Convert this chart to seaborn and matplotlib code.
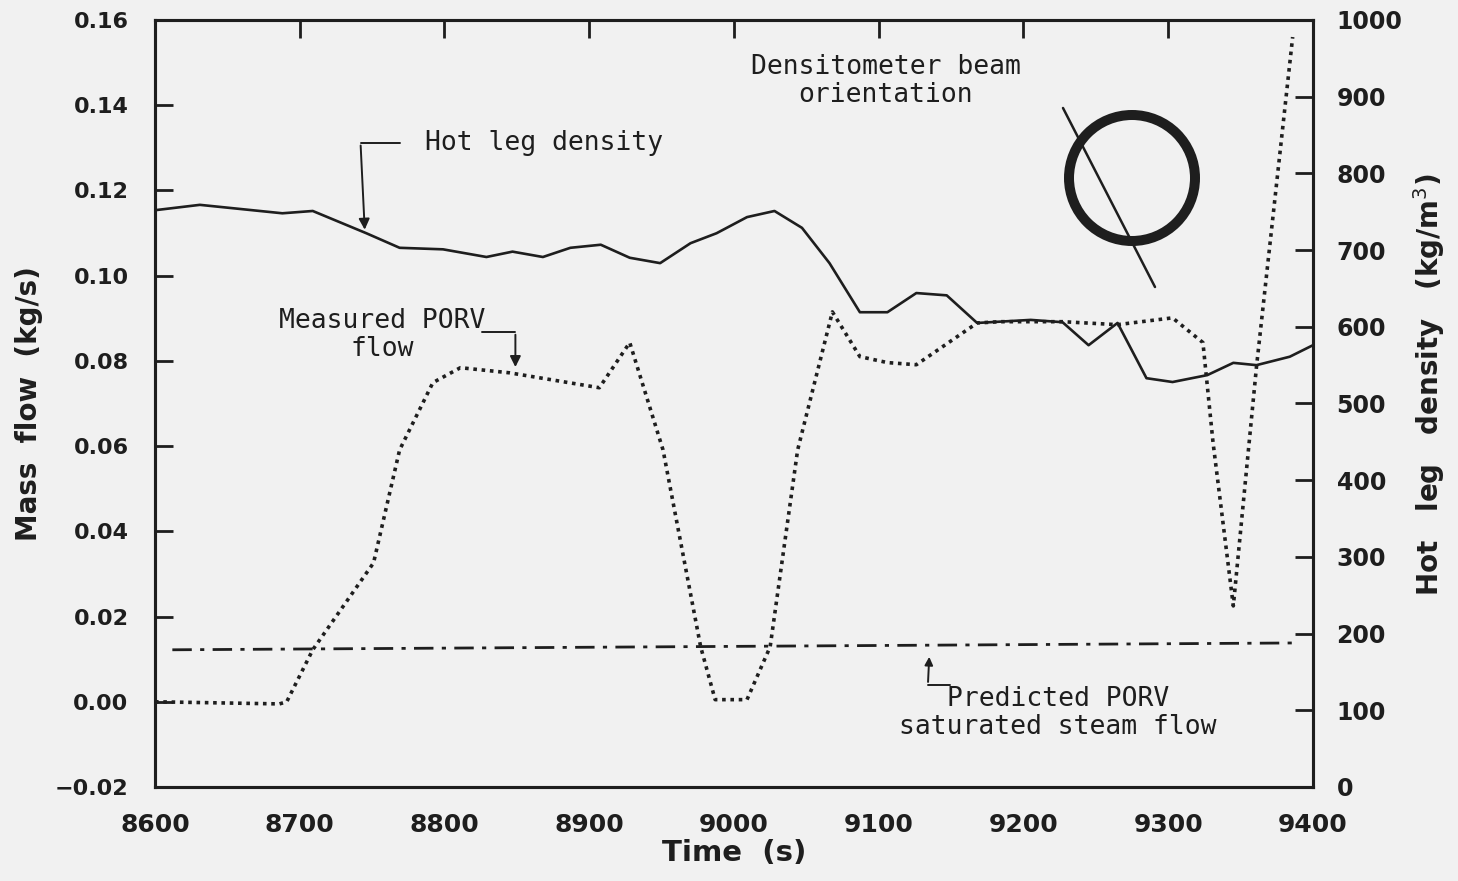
import numpy as np
import pandas as pd
import matplotlib
matplotlib.use("Agg")
import matplotlib.pyplot as plt
import matplotlib.transforms as mtransforms
import matplotlib.lines as mlines
import seaborn as sns
from matplotlib.patches import Circle

# ---------------- data ----------------
density_time = [8600, 8631, 8688, 8709, 8746, 8769, 8799, 8829, 8847, 8868, 8887, 8908,
                8928, 8949, 8970, 8988, 9009, 9028, 9047, 9066, 9087, 9106, 9126, 9147,
                9168, 9205, 9227, 9245, 9265, 9285, 9303, 9327, 9345, 9361, 9384, 9400]
density_value = [752, 759, 748, 751, 722, 703, 701, 691, 698, 691, 703, 707,
                 690, 683, 709, 722, 743, 751, 729, 683, 619, 619, 644, 641,
                 605, 609, 606, 576, 605, 533, 528, 537, 553, 550, 561, 576]

porv_time = [8600, 8686, 8691, 8709, 8751, 8769, 8792, 8811, 8845, 8907, 8928, 8951,
             8977, 8987, 9009, 9025, 9044, 9068, 9087, 9106, 9126, 9168, 9184, 9227,
             9265, 9303, 9324, 9331, 9345, 9361, 9386]
porv_flow = [0.000, -0.0005, 0.000, 0.0122, 0.0326, 0.0591, 0.0749, 0.0784, 0.0772, 0.0737,
             0.0843, 0.0591, 0.0129, 0.0005, 0.0005, 0.0129, 0.0591, 0.0915, 0.0810, 0.0796,
             0.0791, 0.0889, 0.0892, 0.0892, 0.0885, 0.0901, 0.0843, 0.0608, 0.0225, 0.0786,
             0.1560]

pred_time = [8612, 9386]
pred_flow = [0.0122, 0.0138]

x_ticks = [8600, 8700, 8800, 8900, 9000, 9100, 9200, 9300, 9400]
x_tick_labels = ["8600", "8700", "8800", "8900", "9000", "9100", "9200", "9300", "9400"]
left_ticks = [-0.02, 0.00, 0.02, 0.04, 0.06, 0.08, 0.10, 0.12, 0.14, 0.16]
left_tick_labels = ["\u22120.02", "0.00", "0.02", "0.04", "0.06", "0.08", "0.10", "0.12", "0.14", "0.16"]
right_ticks = [0, 100, 200, 300, 400, 500, 600, 700, 800, 900, 1000]
right_tick_labels = ["0", "100", "200", "300", "400", "500", "600", "700", "800", "900", "1000"]

# ---------------- style ----------------
sns.set_style("white")
plt.rcParams["font.family"] = ["DejaVu Sans"]
INK = "#1e1e1e"
BG = "#f1f1f1"

fig = plt.figure(figsize=(14.58, 8.81), dpi=100, facecolor=BG)
ax = fig.add_axes([0.1063, 0.1067, 0.7942, 0.8706], facecolor=BG)
ax2 = ax.twinx()

df_den = pd.DataFrame({"t": density_time, "v": density_value})
df_porv = pd.DataFrame({"t": porv_time, "v": porv_flow})
df_pred = pd.DataFrame({"t": pred_time, "v": pred_flow})

sns.lineplot(data=df_porv, x="t", y="v", ax=ax, color=INK, lw=2.6,
             linestyle=(0, (1.0, 1.3)), sort=False, estimator=None)
sns.lineplot(data=df_pred, x="t", y="v", ax=ax, color=INK, lw=2.0,
             linestyle=(0, (7, 3, 1.5, 3)), sort=False, estimator=None)
sns.lineplot(data=df_den, x="t", y="v", ax=ax2, color=INK, lw=1.9,
             sort=False, estimator=None)

ax.set_xlim(8600, 9400)
ax.set_ylim(-0.02, 0.16)
ax2.set_ylim(0, 1000)

ax.set_xticks(x_ticks)
ax.set_xticklabels(x_tick_labels)
ax.set_yticks(left_ticks)
ax.set_yticklabels(left_tick_labels)
ax2.set_yticks(right_ticks)
ax2.set_yticklabels(right_tick_labels)

for lab in ax.get_xticklabels():
    lab.set_fontsize(18)
    lab.set_fontweight("bold")
    lab.set_color(INK)
for lab in ax.get_yticklabels():
    lab.set_fontsize(16)
    lab.set_fontweight("bold")
    lab.set_color(INK)
for lab in ax2.get_yticklabels():
    lab.set_fontsize(17)
    lab.set_fontweight("bold")
    lab.set_color(INK)

ax.tick_params(axis="x", direction="in", length=13, width=2, color=INK,
               top=True, pad=19)
ax.tick_params(axis="y", direction="in", length=13, width=2, color=INK,
               right=False, pad=19)
ax2.tick_params(axis="y", direction="in", length=13, width=2, color=INK, pad=17)

for a in (ax, ax2):
    for s in a.spines.values():
        s.set_linewidth(2.2)
        s.set_color(INK)
        s.set_visible(True)

ax.set_xlabel("Time  (s)", fontsize=21, fontweight="bold", color=INK)
ax.set_ylabel("Mass  flow  (kg/s)", fontsize=20, fontweight="bold", color=INK)
ax2.set_ylabel("Hot   leg   density   (kg/m$^3$)", fontsize=20, fontweight="bold",
               color=INK)
ax.xaxis.set_label_coords(0.5, -0.068)
ax.yaxis.set_label_coords(-0.097, 0.5)
ax2.yaxis.set_label_coords(1.085, 0.525)

# ---------------- annotations ----------------
mono = dict(family="DejaVu Sans Mono", fontsize=19, color=INK)
arrow = dict(arrowstyle="-|>", color=INK, lw=1.4, mutation_scale=16)

ax2.text(8869, 840, "Hot leg density", ha="center", va="center", **mono)
ax2.plot([8742, 8769], [840, 840], color=INK, lw=1.4)
ax2.annotate("", xy=(8745, 723), xytext=(8742, 840), arrowprops=arrow)

ax.text(8757, 0.0861, "Measured PORV\nflow", ha="center", va="center",
        linespacing=1.1, **mono)
ax.plot([8826, 8849], [0.0868, 0.0868], color=INK, lw=1.4)
ax.annotate("", xy=(8849, 0.0779), xytext=(8849, 0.0868), arrowprops=arrow)

ax.text(9105, 0.1456, "Densitometer beam\norientation", ha="center", va="center",
        linespacing=1.1, **mono)

ax.text(9224, -0.0026, "Predicted PORV\nsaturated steam flow", ha="center", va="center",
        linespacing=1.1, **mono)
ax.plot([9134, 9149], [0.0040, 0.0040], color=INK, lw=1.4)
ax.annotate("", xy=(9135, 0.0112), xytext=(9134, 0.0040),
            arrowprops=dict(arrowstyle="-|>", color=INK, lw=1.4, mutation_scale=12))

# densitometer beam orientation symbol (pixel positions)
circ = Circle((1132, 881 - 178), 63, fill=False, lw=7.2, ec=INK,
              transform=mtransforms.IdentityTransform())
fig.patches.append(circ)
fig.add_artist(mlines.Line2D([1063 / 1458, 1155 / 1458],
                             [1 - 108 / 881, 1 - 287 / 881],
                             transform=fig.transFigure, color=INK, lw=1.8))

fig.savefig("out.png", dpi=100, facecolor=BG)
